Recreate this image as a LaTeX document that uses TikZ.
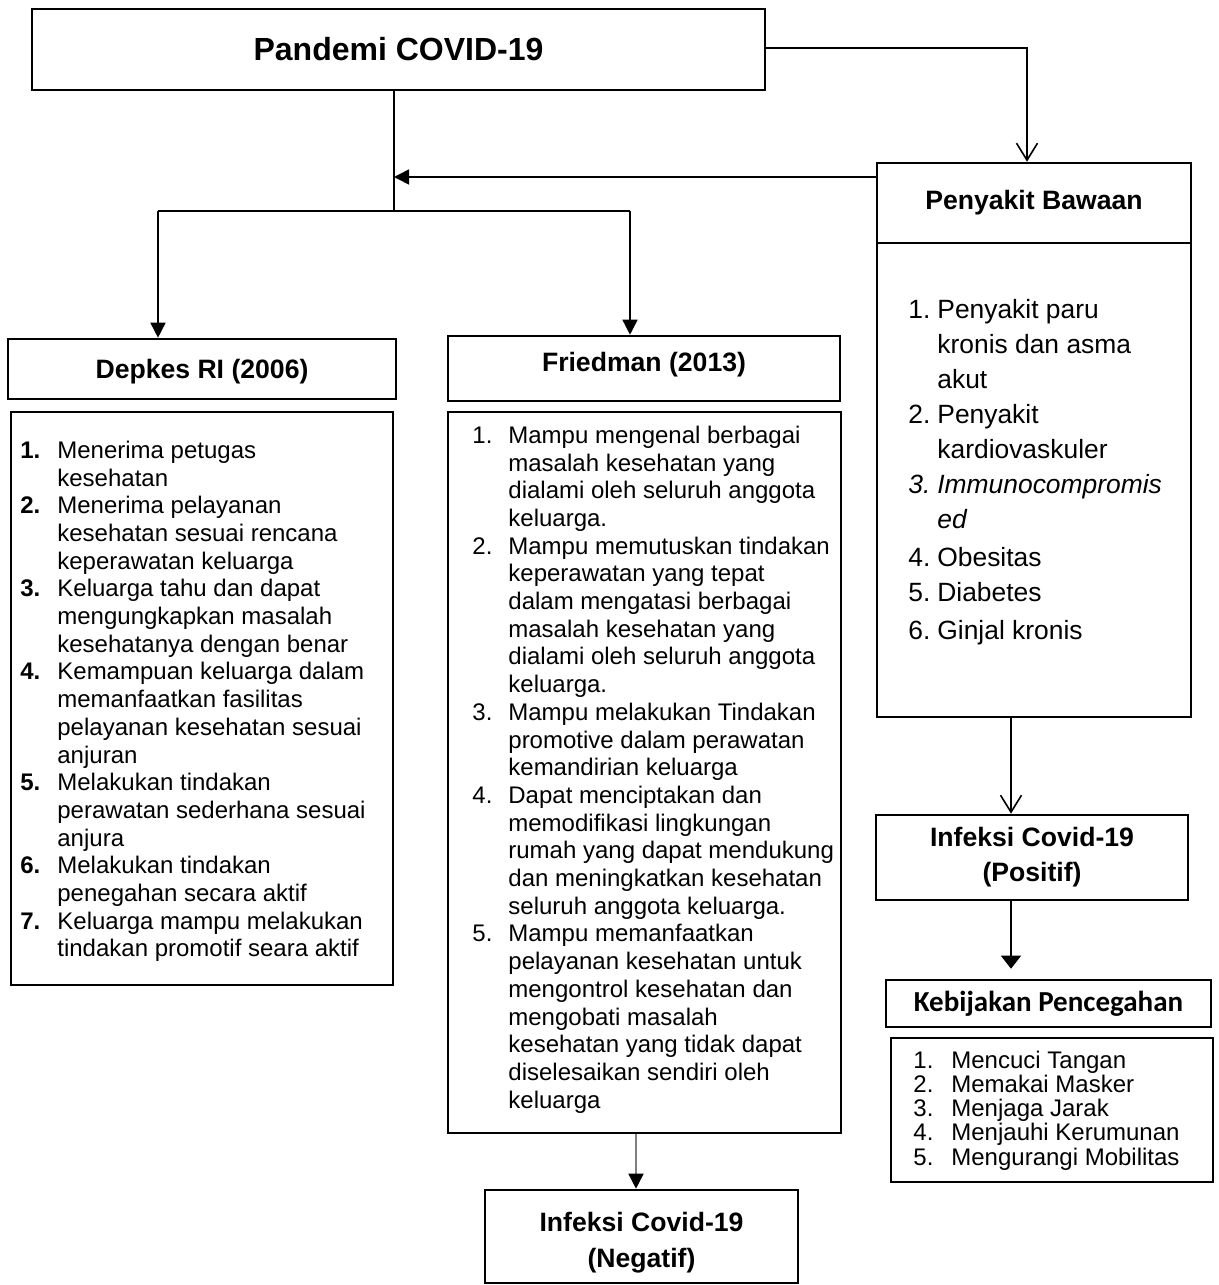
\documentclass[tikz,border=0pt]{standalone}
\usepackage{fontspec}
\setmainfont{Liberation Sans}
\newfontfamily\calibri{Carlito}
\usetikzlibrary{arrows.meta, positioning, calc}

\newlength{\numw}
\newcommand{\itm}[2]{\makebox[\numw][l]{#1}#2}
\newcommand{\cnt}[1]{\makebox[\numw][l]{}#1}

\begin{document}
\begin{tikzpicture}[
				x=0.5pt, y=-0.5pt,
				box/.style={rectangle, draw=black, line width=1.3pt, inner sep=0pt, align=center},
				head/.style={box, font=\bfseries\fontsize{13.3}{17.5}\selectfont},
				listtext/.style n args={3}{anchor=north west, inner sep=0pt, align=left,
					font={\fontsize{#2}{#3}\selectfont\setlength{\numw}{#1}}},
				arrow/.style={-{Triangle[length=7.5pt, width=7.5pt, black]}, line width=0.8pt},
				openarrow/.style={-{Straight Barb[length=8.5pt, width=10.5pt, line width=0.8pt]}, line width=1pt},
				link/.style={line width=1pt}
				]
				\useasboundingbox (0,0) rectangle (1219,1285);

				% top
				\node[box, minimum width=366.5pt, minimum height=40.5pt,
					font=\bfseries\fontsize{16}{19}\selectfont] (pand) at (398.5,49.5) {Pandemi COVID-19};

				% left column
				\node[head, minimum width=194pt, minimum height=30pt, text depth=0pt] (depH) at (202,369) {Depkes RI (2006)};
				\node[box, minimum width=191pt, minimum height=286.5pt] (depL) at (202,698.5) {};
				\node[listtext={18.5pt}{12}{13.85}] (depT) at (20,440.5) {%
					\itm{\textbf{1.}}{Menerima petugas}\\
					\cnt{kesehatan}\\
					\itm{\textbf{2.}}{Menerima pelayanan}\\
					\cnt{kesehatan sesuai rencana}\\
					\cnt{keperawatan keluarga}\\
					\itm{\textbf{3.}}{Keluarga tahu dan dapat}\\
					\cnt{mengungkapkan masalah}\\
					\cnt{kesehatanya dengan benar}\\
					\itm{\textbf{4.}}{Kemampuan keluarga dalam}\\
					\cnt{memanfaatkan fasilitas}\\
					\cnt{pelayanan kesehatan sesuai}\\
					\cnt{anjuran}\\
					\itm{\textbf{5.}}{Melakukan tindakan}\\
					\cnt{perawatan sederhana sesuai}\\
					\cnt{anjura}\\
					\itm{\textbf{6.}}{Melakukan tindakan}\\
					\cnt{penegahan secara aktif}\\
					\itm{\textbf{7.}}{Keluarga mampu melakukan}\\
					\cnt{tindakan promotif seara aktif}};

				% middle column
				\node[head, minimum width=196pt, minimum height=32.5pt, text depth=7pt] (frH) at (644,368.5) {Friedman (2013)};
				\node[box, minimum width=196.5pt, minimum height=360.5pt] (frL) at (644.5,772.5) {};
				\node[listtext={18pt}{12}{13.85}] (frT) at (472,425.5) {%
					\itm{1.}{Mampu mengenal berbagai}\\
					\cnt{masalah kesehatan yang}\\
					\cnt{dialami oleh seluruh anggota}\\
					\cnt{keluarga.}\\
					\itm{2.}{Mampu memutuskan tindakan}\\
					\cnt{keperawatan yang tepat}\\
					\cnt{dalam mengatasi berbagai}\\
					\cnt{masalah kesehatan yang}\\
					\cnt{dialami oleh seluruh anggota}\\
					\cnt{keluarga.}\\
					\itm{3.}{Mampu melakukan Tindakan}\\
					\cnt{promotive dalam perawatan}\\
					\cnt{kemandirian keluarga}\\
					\itm{4.}{Dapat menciptakan dan}\\
					\cnt{memodifikasi lingkungan}\\
					\cnt{rumah yang dapat mendukung}\\
					\cnt{dan meningkatkan kesehatan}\\
					\cnt{seluruh anggota keluarga.}\\
					\itm{5.}{Mampu memanfaatkan}\\
					\cnt{pelayanan kesehatan untuk}\\
					\cnt{mengontrol kesehatan dan}\\
					\cnt{mengobati masalah}\\
					\cnt{kesehatan yang tidak dapat}\\
					\cnt{diselesaikan sendiri oleh}\\
					\cnt{keluarga}};
				\node[box, minimum width=156.5pt, minimum height=46.5pt] (neg) at (641.5,1236.5) {};
				\node[font=\bfseries\fontsize{13.3}{18}\selectfont, align=center, inner sep=0pt] (negT) at (641.5,1243) {Infeksi Covid-19\\(Negatif)};

				% right column
				\node[head, minimum width=157pt, minimum height=40pt] (pbH) at (1034,203) {Penyakit Bawaan};
				\node[box, minimum width=157pt, minimum height=237pt] (pbL) at (1034,480) {};
				\node[listtext={14.5pt}{13.2}{17.5}] (pbT) at (908,298.7) {%
					\itm{1.}{Penyakit paru}\\
					\cnt{kronis dan asma}\\
					\cnt{akut}\\
					\itm{2.}{Penyakit}\\
					\cnt{kardiovaskuler}\\
					\itm{\itshape 3.}{\itshape Immunocompromis}\\
					\cnt{\itshape ed}\\[1.5pt]
					\itm{4.}{Obesitas}\\
					\itm{5.}{Diabetes}\\[1.5pt]
					\itm{6.}{Ginjal kronis}};
				\node[head, minimum width=156pt, minimum height=42.5pt] (pos) at (1032,857.5) {Infeksi Covid-19\\(Positif)};
				\node[box, minimum width=162.5pt, minimum height=23.5pt,
					font=\calibri\bfseries\fontsize{14.5}{17}\selectfont] (kbH) at (1048.5,1003.5) {Kebijakan Pencegahan};
				\node[box, minimum width=161pt, minimum height=72pt] (kbL) at (1052,1110) {};
				\node[listtext={19pt}{12}{12.1}] (kbT) at (913,1050.5) {%
					\itm{1.}{Mencuci Tangan}\\
					\itm{2.}{Memakai Masker}\\
					\itm{3.}{Menjaga Jarak}\\
					\itm{4.}{Menjauhi Kerumunan}\\
					\itm{5.}{Mengurangi Mobilitas}};

				% connectors
				\coordinate (jn) at (394,211);
				\coordinate (jl) at (158,211);
				\coordinate (jr) at (630,211);
				\coordinate (pbin) at (877,177);
				\coordinate (tr) at (1027,48);
				\coordinate (rc) at (1011,0);
				\coordinate (mc) at (636,0);

				\draw[link] (pand.south -| jn) -- (jn);
				\draw[line width=0.65pt] (jl) -- (jr);
				\draw[arrow] (jl) -- (jl |- depH.north);
				\draw[arrow] (jr) -- (jr |- frH.north);
				\draw[arrow] (pbin) -- (pbin -| jn);
				\draw[openarrow] (pand.east |- tr) -- (tr) -- (tr |- pbH.north);
				\draw[openarrow, line width=1.15pt] (pbL.south -| rc) -- (pos.north -| rc);
				\draw[-{Triangle[length=6.5pt, width=10pt]}, line width=0.65pt, shorten >=5pt] (pos.south -| rc) -- (kbH.north -| rc);
				\draw[arrow, draw=gray] (frL.south -| mc) -- (neg.north -| mc);
			\end{tikzpicture}
\end{document}
